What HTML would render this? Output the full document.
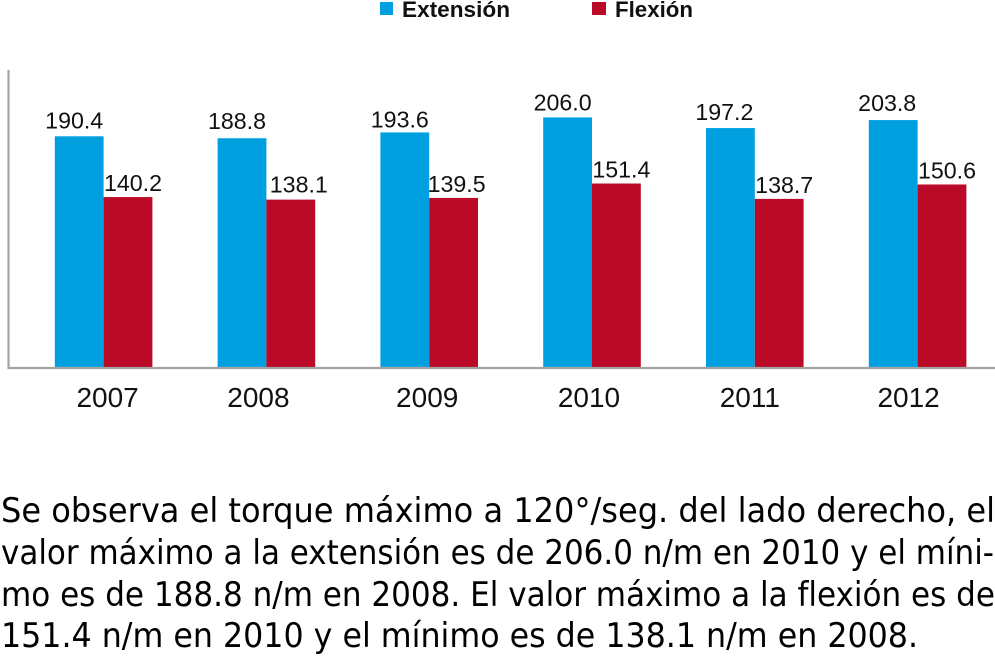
<!DOCTYPE html>
<html lang="es">
<head>
<meta charset="utf-8">
<title>Torque máximo</title>
<style>
html,body{margin:0;padding:0;background:#fff;width:995px;height:656px;overflow:hidden}
svg{display:block}
.val{font:23.2px "Liberation Sans",sans-serif;fill:#111;text-anchor:middle}
.year{font:28px "Liberation Sans",sans-serif;fill:#111;text-anchor:middle}
.leg{font:bold 22px "Liberation Sans",sans-serif;fill:#111}
.para{font:34px "DejaVu Sans Condensed","DejaVu Sans",sans-serif;font-stretch:condensed;fill:#000}
</style>
</head>
<body>
<svg id="chart" width="995" height="656" viewBox="0 0 995 656">
  <g>
    <rect x="380" y="2" width="13" height="13" fill="#009fe0"/>
    <text class="leg" x="402" y="17" textLength="108" lengthAdjust="spacingAndGlyphs">Extensión</text>
    <rect x="592" y="2" width="14" height="13" fill="#bb0a28"/>
    <text class="leg" x="615" y="17" textLength="78" lengthAdjust="spacingAndGlyphs">Flexión</text>
  </g>
  <g id="bars"></g>
  <path d="M8.5 70V368H995" fill="none" stroke="#a3a3a3" stroke-width="2.2"/>
  <g id="labels"></g>
  <g>
    <text class="para" x="1" y="522" textLength="994" lengthAdjust="spacingAndGlyphs">Se observa el torque máximo a 120°/seg. del lado derecho, el</text>
    <text class="para" x="1" y="564" textLength="993" lengthAdjust="spacingAndGlyphs">valor máximo a la extensión es de 206.0 n/m en 2010 y el míni-</text>
    <text class="para" x="1" y="606" textLength="994" lengthAdjust="spacingAndGlyphs">mo es de 188.8 n/m en 2008. El valor máximo a la flexión es de</text>
    <text class="para" x="1" y="647" textLength="917" lengthAdjust="spacingAndGlyphs">151.4 n/m en 2010 y el mínimo es de 138.1 n/m en 2008.</text>
  </g>
</svg>
<script>
const years = ['2007', '2008', '2009', '2010', '2011', '2012'];
const extension = [190.4, 188.8, 193.6, 206.0, 197.2, 203.8];
const flexion = [140.2, 138.1, 139.5, 151.4, 138.7, 150.6];

const NS = 'http://www.w3.org/2000/svg';
const barsG = document.getElementById('bars');
const labelsG = document.getElementById('labels');
const baseY = 367.5, zeroY = 366.8, unit = 1.2106, barW = 48.8, groupStep = 162.8, firstX = 54.8;
const yearShift = [4, -8, -2, -3, -5, -9];
const extLabelNudge = [-5, -5, -5, -5, -6, -6];
const flexLabelNudge = [5, 8, 3, 5, 5, 5];
const extLabelLift = [8, 9, 5, 7, 8, 9];
const flexLabelLift = [6, 7, 6, 6, 6, 6];
function xScale(i) { return firstX + i * groupStep; }
function yScale(v) { return zeroY - v * unit; }
function drawBar(i, v, offset, color, labelShift, labelLift, series) {
  const r = document.createElementNS(NS, 'rect');
  
  
  r.setAttribute('x', xScale(i) + offset);
  r.setAttribute('y', yScale(v));
  r.setAttribute('width', barW);
  r.setAttribute('height', baseY - yScale(v));
  r.setAttribute('fill', color);
  barsG.appendChild(r);
  const t = document.createElementNS(NS, 'text');
  
  
  t.setAttribute('class', 'val');
  t.setAttribute('x', xScale(i) + offset + barW / 2 + labelShift);
  t.setAttribute('y', yScale(v) - labelLift);
  t.textContent = v.toFixed(1);
  labelsG.appendChild(t);
}
years.forEach(function (y, i) {
  drawBar(i, extension[i], 0, '#009fe0', extLabelNudge[i], extLabelLift[i], 'extension');
  drawBar(i, flexion[i], barW, '#bb0a28', flexLabelNudge[i], flexLabelLift[i], 'flexion');
  const t = document.createElementNS(NS, 'text');
  
  
  t.setAttribute('class', 'year');
  t.setAttribute('x', xScale(i) + barW + yearShift[i]);
  t.setAttribute('y', 407);
  t.textContent = y;
  labelsG.appendChild(t);
});
</script>
</body>
</html>
